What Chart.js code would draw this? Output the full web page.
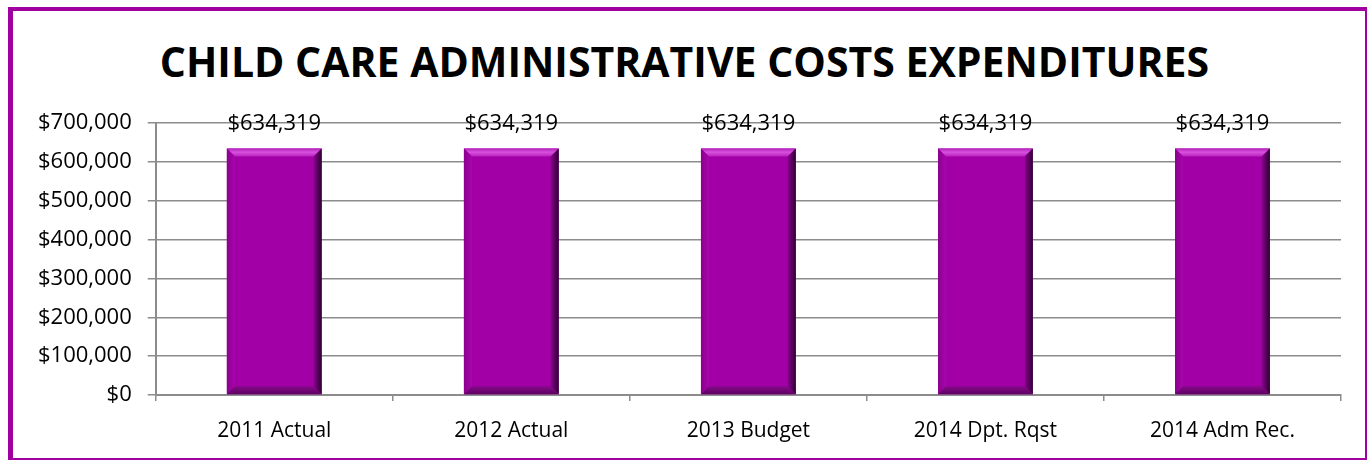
<!DOCTYPE html>
<html>
<head>
<meta charset="utf-8">
<script src="https://cdn.jsdelivr.net/npm/chart.js@4"></script>
<style>
  html, body { margin: 0; padding: 0; background: #ffffff; }
  #frame {
    position: absolute;
    left: 8px; top: 7px;
    width: 1352px; height: 447px;
    border-left: 5px solid #a000a0;
    border-top: 4px solid #a000a0;
    border-right: 2px solid #a000a0;
    border-bottom: 2px solid #a000a0;
    background: #ffffff;
  }
  #title {
    position: absolute;
    left: 0; right: 0; top: 39px;
    text-align: center;
    font-family: "Open Sans", sans-serif;
    font-weight: 700;
    font-size: 41px;
    color: #000;
    line-height: 44px;
    white-space: nowrap;
  }
  #chartBox {
    position: absolute;
    left: 0; top: 0;
    width: 1369px; height: 460px;
  }
</style>
</head>
<body>
<div id="frame"></div>
<div id="title">CHILD CARE ADMINISTRATIVE COSTS EXPENDITURES</div>
<div id="chartBox"><canvas id="chart" width="1369" height="460"></canvas></div>
<script>
// Budget columns and the expenditure for each
const categories = ['2011 Actual', '2012 Actual', '2013 Budget', '2014 Dpt. Rqst', '2014 Adm Rec.'];
const expenditures = [634319, 634319, 634319, 634319, 634319];
const yTickValues = [0, 100000, 200000, 300000, 400000, 500000, 600000, 700000];

const FONT = '"Open Sans", sans-serif';

function money(v) {
  return '$' + Math.round(v).toLocaleString('en-US');
}

// Beveled look for each column: lit top/left edges, shaded right/bottom edges
const bevelPlugin = {
  id: 'bevel',
  afterDatasetsDraw(chart) {
    const ctx = chart.ctx;
    const meta = chart.getDatasetMeta(0);
    meta.data.forEach(bar => {
      const w = bar.width;
      const l = bar.x - w / 2, r = bar.x + w / 2;
      const t = bar.y, b = bar.base;
      const d = 8;
      ctx.save();
      // top
      let g = ctx.createLinearGradient(0, t, 0, t + d);
      g.addColorStop(0, '#b41ebc');
      g.addColorStop(0.45, '#d852de');
      g.addColorStop(1, '#b822be');
      ctx.fillStyle = g;
      ctx.beginPath();
      ctx.moveTo(l, t); ctx.lineTo(r, t); ctx.lineTo(r - d, t + d); ctx.lineTo(l + d, t + d); ctx.closePath();
      ctx.fill();
      // left
      g = ctx.createLinearGradient(l, 0, l + d, 0);
      g.addColorStop(0, '#8a008e');
      g.addColorStop(1, '#a806ac');
      ctx.fillStyle = g;
      ctx.beginPath();
      ctx.moveTo(l, t); ctx.lineTo(l + d, t + d); ctx.lineTo(l + d, b - d); ctx.lineTo(l, b); ctx.closePath();
      ctx.fill();
      // right
      g = ctx.createLinearGradient(r - d, 0, r, 0);
      g.addColorStop(0, '#88008c');
      g.addColorStop(1, '#2e0032');
      ctx.fillStyle = g;
      ctx.beginPath();
      ctx.moveTo(r, t); ctx.lineTo(r, b); ctx.lineTo(r - d, b - d); ctx.lineTo(r - d, t + d); ctx.closePath();
      ctx.fill();
      // bottom
      g = ctx.createLinearGradient(0, b - d, 0, b);
      g.addColorStop(0, '#860a8a');
      g.addColorStop(1, '#5e0062');
      ctx.fillStyle = g;
      ctx.beginPath();
      ctx.moveTo(l, b); ctx.lineTo(r, b); ctx.lineTo(r - d, b - d); ctx.lineTo(l + d, b - d); ctx.closePath();
      ctx.fill();
      ctx.restore();
    });
  }
};

// Value captions above each column
const valueLabels = {
  id: 'valueLabels',
  afterDraw(chart) {
    const ctx = chart.ctx;
    const meta = chart.getDatasetMeta(0);
    ctx.save();
    ctx.font = '22px ' + FONT;
    ctx.fillStyle = '#000';
    ctx.textAlign = 'center';
    ctx.textBaseline = 'alphabetic';
    meta.data.forEach((bar, i) => {
      ctx.fillText(money(expenditures[i]), bar.x, bar.y - 19);
    });
    ctx.restore();
  }
};

new Chart(document.getElementById('chart'), {
  type: 'bar',
  data: {
    labels: categories,
    datasets: [{
      data: expenditures,
      backgroundColor: '#a200a6',
      borderWidth: 0,
      categoryPercentage: 0.8,
      barPercentage: 0.5
    }]
  },
  options: {
    responsive: false,
    animation: false,
    devicePixelRatio: 1,
    layout: { padding: { left: 22, right: 28, top: 123, bottom: 0 } },
    plugins: {
      legend: { display: false },
      tooltip: { enabled: false },
      title: { display: false }
    },
    scales: {
      x: {
        afterFit(scale) { scale.height = 65; },
        grid: {
          display: true,
          offset: true,
          drawOnChartArea: false,
          drawTicks: true,
          tickLength: 6,
          color: '#8c8c8c',
          lineWidth: 1.5
        },
        border: { display: true, color: '#8c8c8c', width: 2 },
        ticks: {
          color: '#000',
          font: { family: FONT, size: 21 },
          padding: 17
        }
      },
      y: {
        min: 0,
        max: 700000,
        afterBuildTicks(scale) {
          scale.ticks = yTickValues.map(v => ({ value: v }));
        },
        grid: {
          color: '#8c8c8c',
          lineWidth: 1.5,
          drawTicks: true,
          tickLength: 8
        },
        border: { display: true, color: '#8c8c8c', width: 2 },
        ticks: {
          color: '#000',
          font: { family: FONT, size: 22 },
          padding: 16,
          callback: v => money(v)
        }
      }
    }
  },
  plugins: [bevelPlugin, valueLabels]
});
</script>
</body>
</html>
